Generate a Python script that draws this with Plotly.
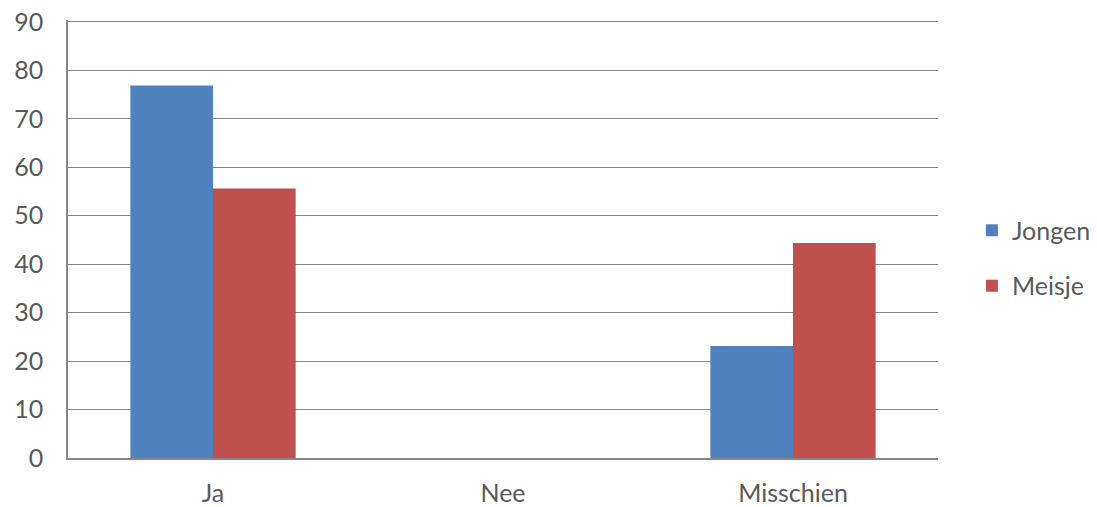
import plotly.graph_objects as go

categories = ["Ja", "Nee", "Misschien"]
jongen = [76.9, 0, 23.1]
meisje = [55.6, 0, 44.4]
y_ticks = [0, 10, 20, 30, 40, 50, 60, 70, 80, 90]

fig = go.Figure()
fig.add_trace(go.Bar(name="Jongen", x=categories, y=jongen,
                     marker=dict(color="#4F81BD", line=dict(width=0)),
                     legendgroup="a"))
fig.add_trace(go.Bar(name="Meisje", x=categories, y=meisje,
                     marker=dict(color="#C0504D", line=dict(width=0)),
                     legendgroup="b"))

font_fam = "Lato, 'Open Sans', sans-serif"
fig.update_layout(
    width=1097, height=507,
    margin=dict(l=68, r=159, t=20, b=49, autoexpand=False),
    paper_bgcolor="white", plot_bgcolor="white",
    barmode="group", bargap=0.43, bargroupgap=0,
    font=dict(family=font_fam, size=25, color="#595959"),
    legend=dict(x=1.039, y=0.572, xanchor="left", yanchor="top",
                font=dict(size=25, color="#595959"),
                tracegroupgap=20, bgcolor="rgba(0,0,0,0)"),
    xaxis=dict(showline=True, linecolor="#868686", linewidth=1.5,
               ticks="", automargin=False, ticklabelstandoff=12,
               tickfont=dict(size=25, color="#595959")),
    yaxis=dict(range=[0, 90.4], tickvals=y_ticks, showgrid=True,
               gridcolor="#868686", gridwidth=1.3, showline=True,
               linecolor="#868686", linewidth=1.5, ticks="",
               zeroline=False, automargin=False,
               ticklabeloverflow="allow",
               tickfont=dict(size=25, color="#595959"),
               ticklabelstandoff=18),
)
fig.write_html("out.html", config={"displayModeBar": False},
               post_script="document.body.style.margin='0';")
